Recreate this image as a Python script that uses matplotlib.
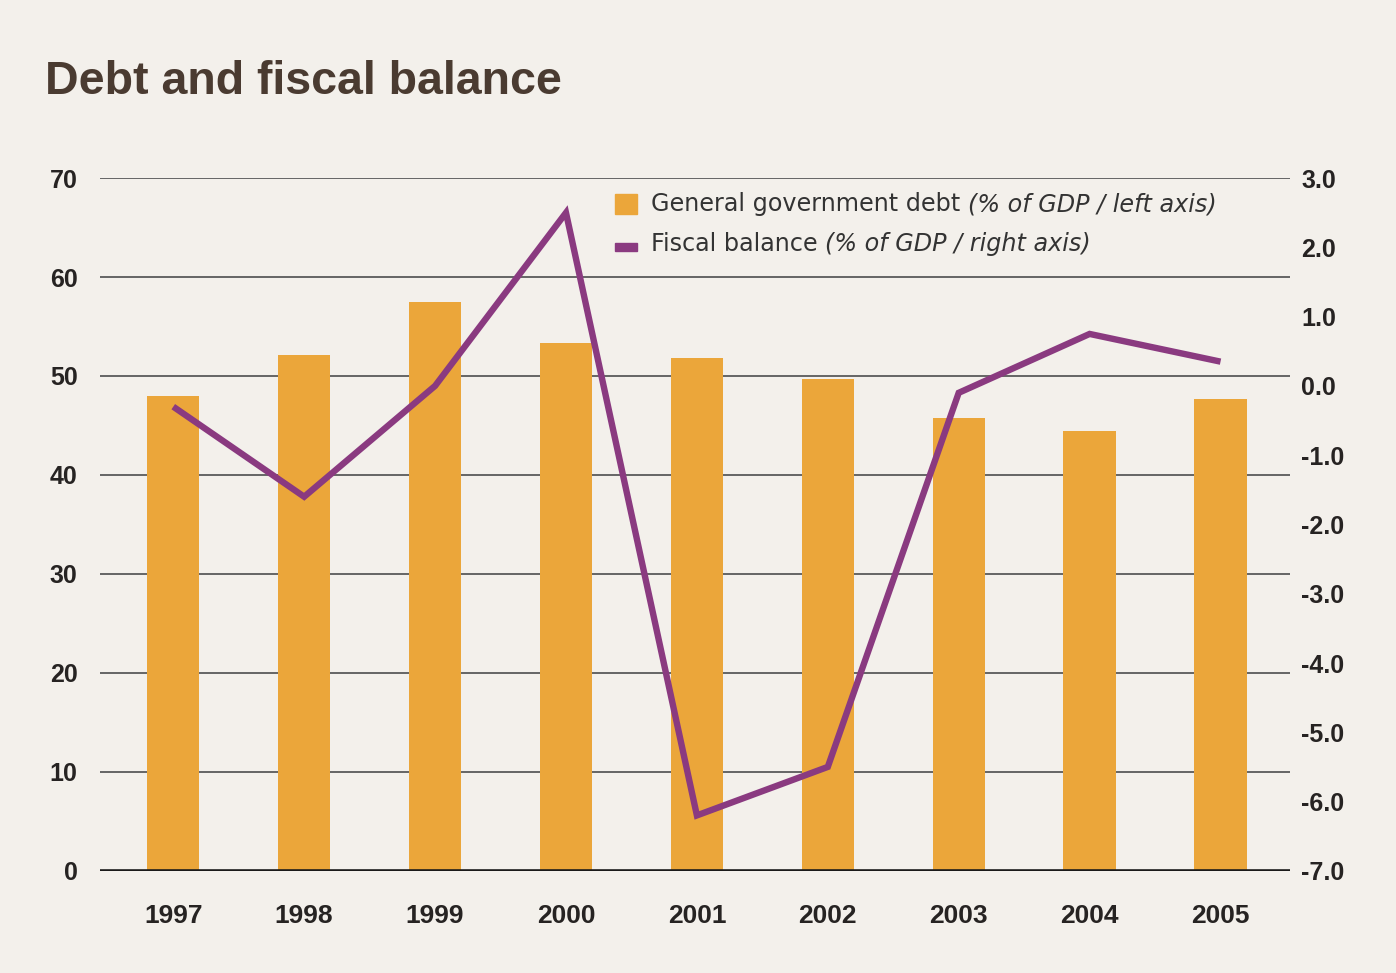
import matplotlib
matplotlib.use("Agg")
import matplotlib.pyplot as plt
from matplotlib.patches import Rectangle

# Data
years = ["1997", "1998", "1999", "2000", "2001", "2002", "2003", "2004", "2005"]
debt = [48.0, 52.1, 57.5, 53.3, 51.8, 49.7, 45.8, 44.4, 47.7]          # % of GDP, left axis
fiscal_balance = [-0.3, -1.6, 0.0, 2.5, -6.2, -5.5, -0.1, 0.75, 0.35]  # % of GDP, right axis
left_ticks = [0, 10, 20, 30, 40, 50, 60, 70]
right_ticks = [3.0, 2.0, 1.0, 0.0, -1.0, -2.0, -3.0, -4.0, -5.0, -6.0, -7.0]

BG = "#f3f0eb"
BAR = "#eba63a"
LINE = "#8a3a80"
TXT = "#262322"
GRID = "#5a5a5a"

plt.rcParams["font.family"] = ["Liberation Sans", "DejaVu Sans"]

fig = plt.figure(figsize=(13.96, 9.73), dpi=100, facecolor=BG)
ax = fig.add_axes([0.0716, 0.105, 0.8524, 0.712])
ax.set_facecolor(BG)

x = list(range(len(years)))
ax.bar(x, debt, width=0.40, color=BAR, zorder=2)
ax.set_xlim(-0.56, 8.53)
ax.set_ylim(0, 70)
ax.set_yticks(left_ticks)
ax.set_yticklabels([str(t) for t in left_ticks])
for t in left_ticks[1:]:
    ax.axhline(t, color=GRID, lw=1.3, zorder=1)
ax.axhline(0, color="#1a1a1a", lw=2.6, zorder=3)

ax.set_xticks(x)
ax.set_xticklabels(years)
for s in ax.spines.values():
    s.set_visible(False)
ax.tick_params(axis="both", length=0)
ax.tick_params(axis="y", pad=16, labelsize=18, labelcolor=TXT)
ax.tick_params(axis="x", pad=24, labelsize=19, labelcolor=TXT)
for lab in ax.get_yticklabels():
    lab.set_fontweight("bold")
for lab in ax.get_xticklabels():
    lab.set_fontweight("bold")

ax2 = ax.twinx()
ax2.set_ylim(-7, 3)
ax2.plot(x, fiscal_balance, color=LINE, lw=4.6, solid_joinstyle="miter",
         solid_capstyle="butt", zorder=4)
ax2.set_yticks(right_ticks)
ax2.set_yticklabels([f"{t:.1f}" for t in right_ticks])
for s in ax2.spines.values():
    s.set_visible(False)
ax2.tick_params(axis="y", length=0, pad=8, labelsize=18, labelcolor=TXT)
for lab in ax2.get_yticklabels():
    lab.set_fontweight("bold")

# Title
fig.text(0.032, 0.903, "Debt and fiscal balance", fontsize=33.5, fontweight="bold",
         color="#4a3b31", ha="left", va="baseline")

# Legend, drawn by hand so part of each label can be italic
fig.canvas.draw()
renderer = fig.canvas.get_renderer()
entries = [
    ("General government debt ", "(% of GDP / left axis)", "bar", 0.783),
    ("Fiscal balance ", "(% of GDP / right axis)", "line", 0.742),
]
for regular, italic, kind, yb in entries:
    if kind == "bar":
        fig.patches.append(Rectangle((0.4405, yb - 0.003), 0.0155, 0.021,
                                     transform=fig.transFigure, color=BAR))
    else:
        fig.patches.append(Rectangle((0.4405, yb), 0.0155, 0.008,
                                     transform=fig.transFigure, color=LINE))
    t1 = fig.text(0.4665, yb, regular, fontsize=17.2, color="#333333",
                  ha="left", va="baseline", family="DejaVu Sans")
    bb = t1.get_window_extent(renderer=renderer)
    x1 = fig.transFigure.inverted().transform((bb.x1, bb.y0))[0]
    fig.text(x1, yb, italic, fontsize=17.2, color="#333333", style="italic",
             ha="left", va="baseline", family="DejaVu Sans")

fig.savefig("out.png", dpi=100, facecolor=BG)
